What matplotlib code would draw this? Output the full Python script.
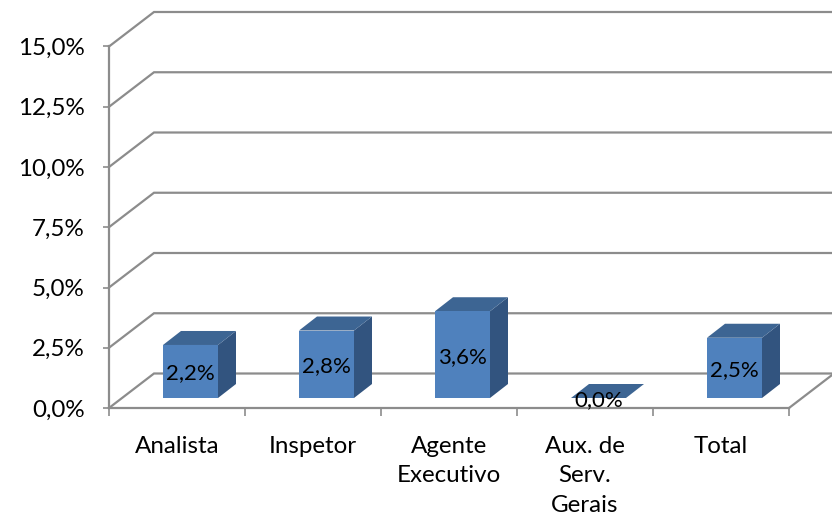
import matplotlib
matplotlib.use("Agg")
import matplotlib.pyplot as plt
from matplotlib.patches import Polygon

categories = ["Analista", "Inspetor", "Agente\nExecutivo", "Aux. de\nServ.\nGerais", "Total"]
values = [2.2, 2.8, 3.6, 0.0, 2.5]
value_labels = ["2,2%", "2,8%", "3,6%", "0,0%", "2,5%"]
y_ticks = [0, 2.5, 5, 7.5, 10, 12.5, 15]
y_labels = ["0,0%", "2,5%", "5,0%", "7,5%", "10,0%", "12,5%", "15,0%"]

W, H = 832, 521
LEFT, RIGHT, TOP, BOTTOM = 109, 789, 46.5, 408
GRID = "#8C8C8C"
FRONT, TOPC, SIDE = "#4F81BD", "#3D6593", "#32547F"
plt.rcParams["font.family"] = ["Lato", "DejaVu Sans"]

fig = plt.figure(figsize=(W / 100, H / 100), dpi=100)
ax = fig.add_axes([LEFT / W, 1 - BOTTOM / H, (RIGHT - LEFT) / W, (BOTTOM - TOP) / H])
ax.set_xlim(-0.5, len(categories) - 0.5)
ax.set_ylim(0, 15)
ax.patch.set_visible(False)
for s in ("top", "right"):
    ax.spines[s].set_visible(False)
for s in ("left", "bottom"):
    ax.spines[s].set_color(GRID)
    ax.spines[s].set_linewidth(1.6)

px_x = (len(categories)) / (RIGHT - LEFT)
px_y = 15 / (BOTTOM - TOP)
DX, DY = 45 * px_x, 34.5 * px_y            # wall depth in data units


def dxy(a, b):
    return a * px_x, b * px_y


# walls and gridlines
x0, x1 = -0.5, len(categories) - 0.5
for v in y_ticks:
    ax.plot([x0, x0 + DX, x1 + DX], [v, v + DY, v + DY], color=GRID, lw=1.6,
            clip_on=False, zorder=1, solid_joinstyle="miter")
ax.plot([x1, x1 + DX], [0, DY], color=GRID, lw=1.6, clip_on=False, zorder=1)

# bars
bw = 55 * px_x
ox, oy = dxy(13.5, 10)       # front face offset from the front axis
sx, sy = dxy(18, 14)         # bar depth
for i, (v, lab) in enumerate(zip(values, value_labels)):
    l, r = i + ox - bw / 2, i + ox + bw / 2
    b, t = oy, oy + v
    ax.add_patch(Polygon([(r, b), (r + sx, b + sy), (r + sx, t + sy), (r, t)],
                         fc=SIDE, ec="none", clip_on=False, zorder=3))
    ax.add_patch(Polygon([(l, t), (r, t), (r + sx, t + sy), (l + sx, t + sy)],
                         fc=TOPC, ec="none", clip_on=False, zorder=3))
    ax.add_patch(Polygon([(l, b), (r, b), (r, t), (l, t)],
                         fc=FRONT, ec="none", clip_on=False, zorder=4))
    ax.text(i + ox, oy + v / 2 - 2 * px_y, lab, ha="center", va="center",
            fontsize=16, color="black", zorder=5)

# axes ticks and labels
ax.set_xticks([i - 0.5 for i in range(len(categories) + 1)])
ax.set_xticklabels([])
ax.set_xticks(range(len(categories)), minor=True)
ax.set_xticklabels(categories, minor=True, fontsize=17.4, linespacing=1.5, color="black")
ax.tick_params(axis="x", which="major", length=5.5, width=1.2, color=GRID)
ax.tick_params(axis="x", which="minor", length=0, pad=20)
ax.set_yticks(y_ticks)
ax.set_yticklabels(y_labels, fontsize=17.4, color="black")
ax.tick_params(axis="y", length=4.5, width=1.2, color=GRID, pad=13)

fig.savefig("out.png", dpi=100)
